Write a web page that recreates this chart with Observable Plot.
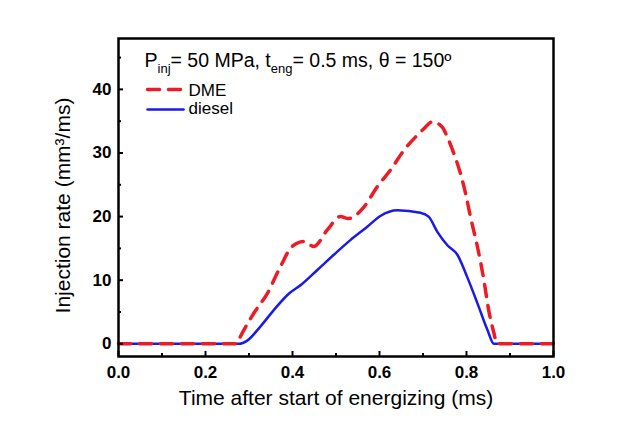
<!DOCTYPE html>
<html><head><meta charset="utf-8">
<script src="https://cdn.jsdelivr.net/npm/d3@7"></script>
<script src="https://cdn.jsdelivr.net/npm/@observablehq/plot@0.6"></script>
<style>body{margin:0;background:#fff} svg{display:block}</style>
</head><body><div id="chart"></div>
<script>
// ---- data ----
const dieselTime = [0, 0.277, 0.296, 0.326, 0.357, 0.392, 0.422, 0.457, 0.495, 0.533, 0.572, 0.602, 0.641, 0.694, 0.713, 0.733, 0.756, 0.779, 0.801, 0.825, 0.848, 0.863, 1.0];
const dieselRate = [0, 0, 0.5, 2.7, 5.3, 7.9, 9.4, 11.6, 14.0, 16.3, 18.4, 20.1, 21.0, 20.6, 20.0, 17.6, 15.5, 14.0, 10.6, 6.4, 2.2, 0, 0];
const dmeTime = [0, 0.272, 0.280, 0.311, 0.342, 0.372, 0.399, 0.426, 0.449, 0.480, 0.510, 0.529, 0.564, 0.595, 0.625, 0.656, 0.687, 0.702, 0.721, 0.744, 0.756, 0.771, 0.786, 0.798, 0.809, 0.825, 0.840, 0.851, 0.863, 0.870, 1.0];
const dmeRate = [0, 0, 1.1, 4.8, 7.9, 12.1, 15.3, 16.1, 15.3, 17.9, 20.0, 19.7, 21.5, 24.7, 27.3, 30.4, 32.8, 33.8, 34.9, 34.1, 32.5, 29.9, 26.8, 23.6, 20.0, 15.3, 10.0, 5.3, 1.7, 0, 0];
const seriesNames = ["DME", "diesel"];
const xMajorTicks = [0, 0.2, 0.4, 0.6, 0.8, 1.0];
const xMinorTicks = [0.1, 0.3, 0.5, 0.7, 0.9];
const yMajorTicks = [0, 10, 20, 30, 40];
const yMinorTicks = [5, 15, 25, 35, 45];
const xLabel = "Time after start of energizing (ms)";
const yLabel = "Injection rate (mm³/ms)";
const titleParts = [["P", false], ["inj", true], ["= 50 MPa, t", false], ["eng", true], ["= 0.5 ms, θ = 150º", false]];

const red = "#ec1c24", blue = "#1a1aeb";
const diesel = dieselTime.map((t, i) => ({t, v: dieselRate[i]}));
const dme = dmeTime.map((t, i) => ({t, v: dmeRate[i]}));
const titlePlain = titleParts.map(d => d[0]).join("");
const lineShape = {draw(context, l) { context.moveTo(0, 0); context.lineTo(0, -l); }};
const font = "'Liberation Sans', Arial, sans-serif";

const chart = Plot.plot({
  width: 619, height: 436,
  marginLeft: 118, marginRight: 66, marginTop: 38, marginBottom: 80,
  style: {fontFamily: font, background: "white", color: "black"},
  x: {domain: [0, 1]},
  y: {domain: [-2, 48]},
  marks: [
    Plot.line(diesel, {x: "t", y: "v", stroke: blue, strokeWidth: 2.5, curve: "monotone-x"}),
    Plot.line(dme, {x: "t", y: "v", stroke: red, strokeWidth: 3.5, strokeDasharray: "12,9", curve: "monotone-x"}),
    Plot.frame({stroke: "black", strokeWidth: 2.5}),
    Plot.axisX(xMajorTicks, {tickSize: -5, strokeWidth: 2, fill: "none", label: null}),
    Plot.axisX(xMinorTicks, {tickSize: -3, strokeWidth: 2, fill: "none", label: null}),
    Plot.axisX(xMajorTicks, {tickSize: 0, tickPadding: 9, tickFormat: d3.format(".1f"), fontSize: 17, fontWeight: "bold", label: null}),
    Plot.axisY(yMajorTicks, {tickSize: -5, strokeWidth: 2, fill: "none", label: null}),
    Plot.axisY(yMinorTicks, {tickSize: -3, strokeWidth: 2, fill: "none", label: null}),
    Plot.axisY(yMajorTicks, {tickSize: 0, tickPadding: 7, fontSize: 17, fontWeight: "bold", label: null}),
    Plot.text([xLabel], {frameAnchor: "bottom", dy: 42, fontSize: 21, textAnchor: "middle", lineAnchor: "middle"}),
    Plot.text([yLabel], {frameAnchor: "left", dx: -55, dy: 8, rotate: -90, fontSize: 21, textAnchor: "middle", lineAnchor: "middle"}),
    Plot.text([titlePlain], {frameAnchor: "top-left", dx: 26, dy: 22, textAnchor: "start", lineAnchor: "middle", fontSize: 19.5}),
    // legend
    Plot.vector([seriesNames[0]], {frameAnchor: "top-left", dx: 29, dy: 51, length: 33, rotate: 90, anchor: "start", shape: lineShape, stroke: red, strokeWidth: 3.5, strokeDasharray: "12,9"}),
    Plot.vector([seriesNames[1]], {frameAnchor: "top-left", dx: 29, dy: 71, length: 36, rotate: 90, anchor: "start", shape: lineShape, stroke: blue, strokeWidth: 2.5}),
    Plot.text([seriesNames[0]], {frameAnchor: "top-left", dx: 70, dy: 52, textAnchor: "start", lineAnchor: "middle", fontSize: 17}),
    Plot.text([seriesNames[1]], {frameAnchor: "top-left", dx: 70, dy: 70, textAnchor: "start", lineAnchor: "middle", fontSize: 17})
  ]
});

// subscripts in the annotation
for (const t of chart.querySelectorAll("text")) {
  if (t.textContent === titlePlain) {
    t.textContent = "";
    let shifted = false;
    for (const [s, sub] of titleParts) {
      const ts = document.createElementNS("http://www.w3.org/2000/svg", "tspan");
      ts.textContent = s;
      if (sub) { ts.setAttribute("font-size", "13"); ts.setAttribute("dy", "6"); shifted = true; }
      else if (shifted) { ts.setAttribute("dy", "-6"); shifted = false; }
      t.appendChild(ts);
    }
  }
}
document.getElementById("chart").appendChild(chart);
</script>
</body></html>
